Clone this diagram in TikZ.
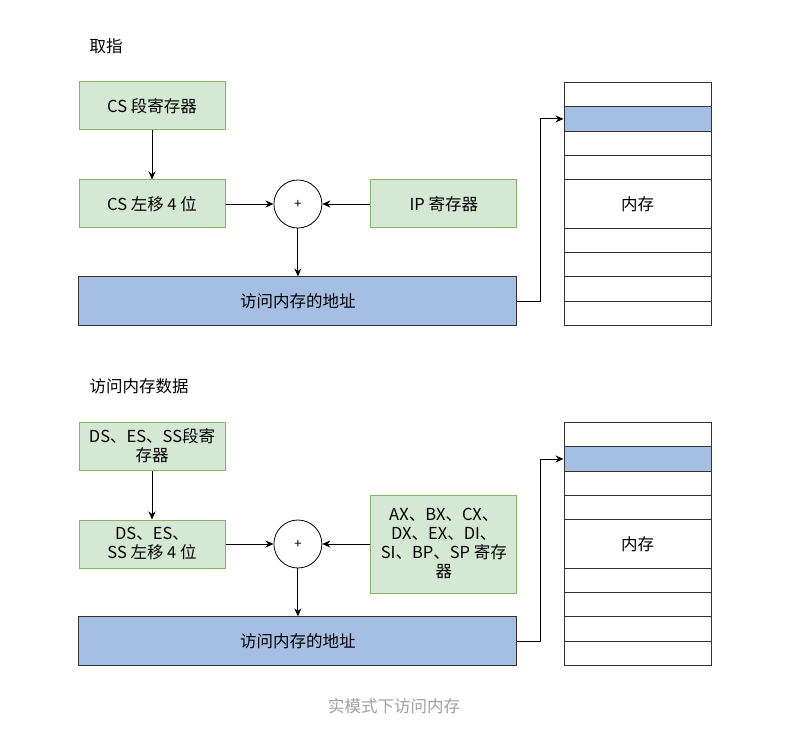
\documentclass[tikz,border=0pt]{standalone}
\usepackage{fontspec}
\setmainfont{Noto Sans CJK SC}
\usetikzlibrary{arrows.meta, positioning}
\definecolor{regfill}{RGB}{213, 232, 212}
\definecolor{regdraw}{RGB}{130, 179, 102}
\definecolor{addrfill}{RGB}{164, 191, 227}
\definecolor{linegray}{RGB}{51, 51, 51}
\definecolor{captiongray}{RGB}{160, 160, 160}

\begin{document}
\begin{tikzpicture}[
    x=1pt, y=-1pt,
    node distance=48pt,
    every node/.style={font=\fontsize{16.5}{19}\selectfont},
    regbox/.style={rectangle, minimum width=146pt, minimum height=48pt,
                   align=center, fill=regfill, draw=regdraw, line width=1pt, inner sep=2pt},
    addrbox/.style={rectangle, minimum width=438pt, minimum height=49pt,
                    fill=addrfill, draw=linegray, line width=1pt},
    adder/.style={circle, minimum size=48pt, draw, fill=white, line width=0.8pt,
                  inner sep=0pt, font=\fontsize{13}{14}\selectfont},
    cell/.style={rectangle, minimum width=147pt, draw=linegray, line width=1pt,
                 inner sep=0pt, anchor=north},
    title/.style={anchor=west},
    arrow/.style={-{Stealth[length=8pt, width=7pt]}, line width=0.9pt},
]
\useasboundingbox (0,0) rectangle (806,730);

% fetch
\node[title] (title1) at (86,46) {取指};
\node[regbox] (seg1) at (152,106) {CS 段寄存器};
\node[regbox, below=49pt of seg1] (shift1) {CS 左移 4 位};
\node[adder, right=of shift1] (plus1) {+};
\node[regbox, right=of plus1] (off1) {IP 寄存器};
\node[addrbox, below=of plus1] (addr1) {访问内存的地址};

\foreach \n/\t/\h/\txt in {a/82/24.3/, b/106.3/24.3/, c/130.6/24.3/, d/154.9/24.3/,
    e/179.2/48.6/内存, f/227.8/24.3/, g/252.1/24.3/, h/276.4/24.3/, i/300.7/24.3/}
  \node[cell, minimum height=\h pt] (m1\n) at (637.5,\t) {\txt};
\node[cell, minimum height=24.3pt, fill=addrfill] (hit1) at (637.5,106.3) {};

\draw[arrow] (seg1) -- (shift1);
\draw[arrow] (shift1) -- (plus1);
\draw[arrow] (off1) -- (plus1);
\draw[arrow] (plus1) -- (addr1);
\draw[arrow] (addr1.east) -- ++(23,0) |- (hit1.west);

% data access
\begin{scope}[shift={(0,340)}]
\node[title] (title2) at (86,46) {访问内存数据};
\node[regbox] (seg2) at (152,106) {DS、ES、SS段寄\\存器};
\node[regbox, below=49pt of seg2] (shift2) {DS、ES、\\SS 左移 4 位};
\node[adder, right=of shift2] (plus2) {+};
\node[regbox, right=of plus2, minimum height=98pt] (off2)
    {AX、BX、CX、\\DX、EX、DI、\\SI、BP、SP 寄存\\器};
\node[addrbox, below=of plus2] (addr2) {访问内存的地址};

\foreach \n/\t/\h/\txt in {a/82/24.3/, b/106.3/24.3/, c/130.6/24.3/, d/154.9/24.3/,
    e/179.2/48.6/内存, f/227.8/24.3/, g/252.1/24.3/, h/276.4/24.3/, i/300.7/24.3/}
  \node[cell, minimum height=\h pt] (m2\n) at (637.5,\t) {\txt};
\node[cell, minimum height=24.3pt, fill=addrfill] (hit2) at (637.5,106.3) {};

\draw[arrow] (seg2) -- (shift2);
\draw[arrow] (shift2) -- (plus2);
\draw[arrow] (off2) -- (plus2);
\draw[arrow] (plus2) -- (addr2);
\draw[arrow] (addr2.east) -- ++(23,0) |- (hit2.west);
\end{scope}

\node[text=captiongray] (caption) at (394,706) {实模式下访问内存};

\end{tikzpicture}
\end{document}
